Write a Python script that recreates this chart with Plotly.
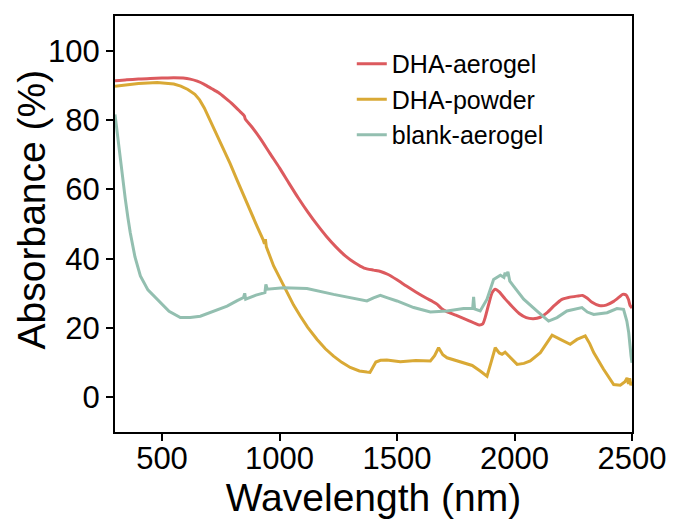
import plotly.graph_objects as go

# ---- data ----
wl_aerogel = [300, 350, 400, 450, 500, 550, 590, 620, 650, 680, 710, 740, 770, 800, 830, 850, 855,
              880, 920, 960, 1000, 1040, 1080, 1120, 1160, 1200, 1240, 1280, 1320, 1360, 1400,
              1430, 1460, 1500, 1540, 1580, 1620, 1650, 1670, 1690, 1710, 1750, 1800, 1850, 1865,
              1875, 1890, 1905, 1918, 1935, 1960, 1990, 2020, 2050, 2080, 2110, 2140, 2170, 2200,
              2230, 2265, 2290, 2310, 2330, 2360, 2390, 2420, 2445, 2460, 2475, 2485, 2492, 2500]
abs_aerogel = [91.3, 91.6, 91.8, 92.0, 92.1, 92.2, 92.1, 91.8, 91.2, 90.3, 89.1, 87.9, 86.3, 84.6,
               82.6, 81.2, 80.2, 78.2, 74.5, 70.3, 66.2, 61.8, 57.5, 53.5, 49.8, 46.4, 43.4, 40.8,
               38.8, 37.3, 36.7, 36.3, 35.5, 33.9, 32.1, 30.4, 28.8, 27.7, 26.9, 25.6, 24.8, 23.7,
               22.3, 20.9, 21.2, 23.0, 26.8, 30.2, 31.2, 30.4, 28.4, 26.2, 24.2, 23.0, 22.7, 23.1,
               24.5, 26.5, 28.2, 28.8, 29.2, 29.4, 28.6, 27.4, 26.5, 26.6, 27.6, 28.9, 29.7, 29.5,
               28.2, 26.5, 25.8]

wl_powder = [300, 350, 400, 480, 550, 580, 610, 640, 660, 680, 700, 730, 760, 790, 820, 854, 880,
             904, 930, 936, 940, 944, 975, 1000, 1032, 1060, 1089, 1120, 1160, 1195, 1230, 1265,
             1301, 1340, 1372, 1385, 1395, 1410, 1430, 1457, 1514, 1580, 1642, 1660, 1677, 1695,
             1713, 1750, 1783, 1820, 1854, 1883, 1900, 1918, 1935, 1947, 1960, 1975, 2011, 2040,
             2067, 2110, 2135, 2160, 2195, 2237, 2266, 2301, 2320, 2337, 2379, 2422, 2450, 2470,
             2479, 2485, 2490, 2495, 2500]
abs_powder = [89.7, 90.2, 90.5, 90.8, 90.4, 89.8, 88.8, 87.4, 85.8, 83.5, 80.6, 76.3, 71.9, 67.4,
              62.6, 57.1, 53.2, 49.4, 45.5, 44.3, 45.6, 43.4, 37.9, 34.5, 30.2, 26.6, 23.4, 20.2,
              16.7, 14.0, 11.9, 10.1, 8.6, 7.6, 7.3, 7.2, 8.4, 10.2, 10.7, 10.8, 10.3, 10.6, 10.5,
              12.0, 14.3, 12.3, 11.4, 10.7, 10.0, 9.2, 7.6, 6.1, 10.0, 14.3, 12.8, 12.4, 13.0, 11.9,
              9.5, 9.8, 10.5, 12.9, 15.5, 17.9, 16.7, 15.3, 16.7, 17.7, 15.5, 12.9, 8.1, 3.7, 3.5,
              4.5, 5.6, 3.9, 5.5, 3.5, 4.5]

wl_blank = [300, 312, 322, 334, 344, 355, 365, 385, 408, 440, 479, 530, 578, 620, 663, 720, 777,
            820, 847, 852, 856, 900, 938, 942, 948, 1017, 1117, 1230, 1300, 1372, 1400, 1429, 1460,
            1500, 1571, 1642, 1713, 1783, 1822, 1826, 1830, 1854, 1883, 1911, 1940, 1955, 1960,
            1966, 1972, 1980, 1996, 2039, 2096, 2145, 2181, 2223, 2287, 2310, 2337, 2394, 2436,
            2464, 2478, 2486, 2496, 2500]
abs_blank = [81.6, 74.5, 68.8, 62.5, 57.1, 51.8, 47.5, 40.5, 35.0, 31.0, 28.3, 24.8, 23.0, 23.0,
             23.4, 24.8, 26.3, 27.9, 28.8, 30.0, 28.3, 29.5, 30.2, 32.6, 31.2, 31.6, 31.4, 29.7,
             28.8, 27.8, 28.7, 29.4, 28.7, 27.8, 25.9, 24.6, 24.9, 25.6, 25.6, 29.0, 25.5, 24.9,
             28.3, 34.0, 35.2, 34.6, 36.0, 35.0, 36.2, 33.5, 32.1, 28.3, 24.9, 22.0, 23.0, 24.9,
             25.9, 24.6, 23.9, 24.4, 25.6, 25.4, 22.0, 18.7, 11.9, 10.0]

x_ticks = [500, 1000, 1500, 2000, 2500]
y_ticks = [0, 20, 40, 60, 80, 100]

FONT = "Arial, Liberation Sans, sans-serif"

fig = go.Figure()
fig.add_trace(go.Scatter(x=wl_aerogel, y=abs_aerogel, mode="lines", name="DHA-aerogel",
                         line=dict(color="#DC5A5E", width=3, shape="spline", smoothing=0.6)))
fig.add_trace(go.Scatter(x=wl_powder, y=abs_powder, mode="lines", name="DHA-powder",
                         line=dict(color="#D9A935", width=3)))
fig.add_trace(go.Scatter(x=wl_blank, y=abs_blank, mode="lines", name="blank-aerogel",
                         line=dict(color="#93BFB0", width=3)))

axis_common = dict(showgrid=False, zeroline=False, showline=True, linecolor="black", linewidth=2,
                   mirror=True, ticks="outside", ticklen=7, tickwidth=2, tickcolor="black",
                   automargin=False,
                   tickfont=dict(family=FONT, size=31, color="black"))

fig.update_xaxes(range=[300, 2500], tickvals=x_ticks, ticktext=[str(v) for v in x_ticks],
                 ticklabelstandoff=-9,
                 title=dict(text="Wavelength (nm)", font=dict(family=FONT, size=39, color="black"),
                            standoff=4),
                 **axis_common)
fig.update_yaxes(range=[-10, 110], tickvals=y_ticks, ticktext=[str(v) for v in y_ticks],
                 **axis_common)

fig.update_layout(
    width=675, height=519,
    margin=dict(l=115, r=43, t=16, b=87),
    plot_bgcolor="white", paper_bgcolor="white",
    font=dict(family=FONT, color="black"),
    legend=dict(x=0.458, y=0.94, xanchor="left", yanchor="top", bgcolor="rgba(0,0,0,0)",
                font=dict(family=FONT, size=25, color="black"), tracegroupgap=0),
    annotations=[dict(text="Absorbance (%)", xref="paper", yref="paper",
                      x=-0.1625, y=0.535, xanchor="center", yanchor="middle",
                      textangle=-90, showarrow=False,
                      font=dict(family=FONT, size=39, color="black"))],
)

fig.write_html("out.html")
